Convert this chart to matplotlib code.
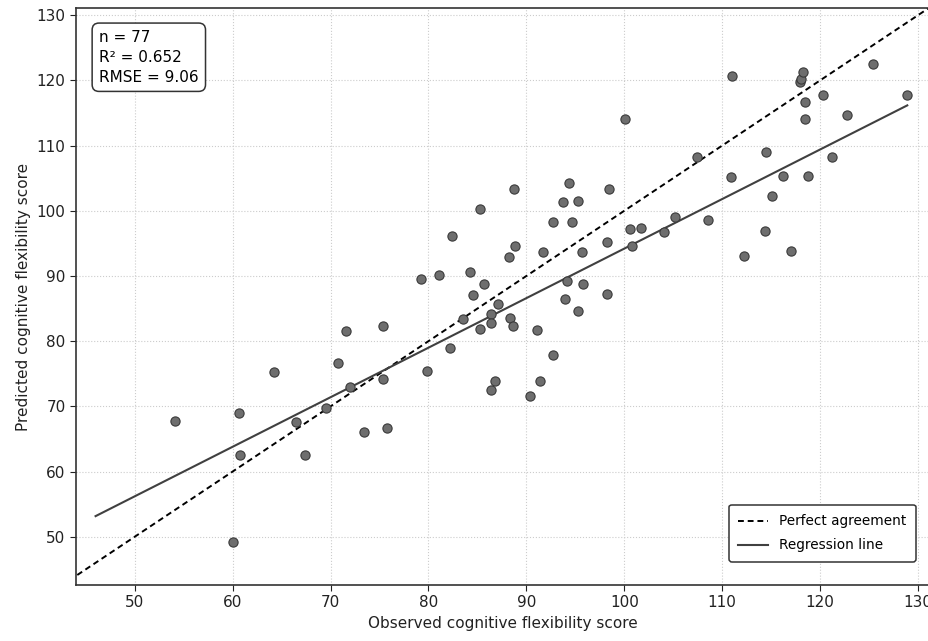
import numpy as np
import matplotlib
matplotlib.use("Agg")
import matplotlib.pyplot as plt

# observed vs predicted scores
observed = [54.1, 60.0, 60.6, 60.8, 64.2, 66.5, 67.4, 69.5, 70.8, 71.6,
            72.0, 73.4, 75.4, 75.4, 75.8, 79.2, 79.8, 81.1, 82.4, 82.2,
            83.5, 84.2, 84.5, 85.3, 85.3, 85.7, 86.4, 86.4, 86.4, 86.8,
            87.1, 88.3, 88.6, 88.2, 88.8, 88.7, 90.4, 91.1, 91.4, 91.7,
            92.7, 92.7, 93.7, 94.4, 95.3, 94.7, 93.9, 94.1, 95.3, 95.8,
            95.7, 98.2, 98.2, 98.4, 100.1, 100.6, 100.8, 101.7, 104.1, 105.2,
            107.4, 108.5, 111.0, 110.9, 112.2, 114.5, 114.4, 115.1, 116.2, 117.0,
            117.9, 118.0, 118.2, 118.5, 118.5, 118.8, 120.3, 121.2, 122.7, 125.4,
            128.9]
predicted = [67.8, 49.2, 69.0, 62.5, 75.3, 67.6, 62.5, 69.7, 76.6, 81.5,
             73.0, 66.0, 82.3, 74.2, 66.7, 89.5, 75.4, 90.2, 96.2, 78.9,
             83.4, 90.6, 87.1, 100.2, 81.9, 88.8, 84.2, 82.8, 72.5, 73.9,
             85.7, 83.5, 82.3, 92.9, 94.6, 103.3, 71.6, 81.7, 73.9, 93.6,
             77.9, 98.3, 101.4, 104.3, 101.5, 98.3, 86.5, 89.3, 84.6, 88.8,
             93.7, 95.2, 87.2, 103.3, 114.1, 97.2, 94.6, 97.4, 96.7, 99.1,
             108.2, 98.6, 120.7, 105.2, 93.1, 109.0, 96.9, 102.3, 105.4, 93.9,
             119.7, 120.2, 121.3, 116.7, 114.1, 105.4, 117.8, 108.3, 114.7, 122.5,
             117.7]

# regression line as drawn in the picture
reg_slope = 0.76
reg_intercept = 18.2
reg_range = [46.0, 128.9]

stats_text = "n = 77\nR\u00b2 = 0.652\nRMSE = 9.06"

fig = plt.figure(figsize=(9.29, 6.41), dpi=100)
ax = fig.add_axes([0.0818, 0.0874, 0.918, 0.9001])

ax.grid(True, color="#cccccc", linestyle=":", linewidth=0.8)
ax.set_axisbelow(True)

lims_x = (44.0, 131.1)
lims_y = (42.6, 131.1)
ident = np.array([40.0, 135.0])
ax.plot(ident, ident, color="black", linestyle="--", linewidth=1.4,
        dashes=(3, 2), label="Perfect agreement", zorder=2)

xr = np.array(reg_range)
ax.plot(xr, reg_slope * xr + reg_intercept, color="#404040", linewidth=1.5,
        label="Regression line", zorder=2)

ax.scatter(observed, predicted, s=44, color="#6e6e6e", edgecolors="#3a3a3a",
           linewidths=0.8, zorder=3)

ax.set_xlim(lims_x)
ax.set_ylim(lims_y)
ax.set_xticks(np.arange(50, 131, 10))
ax.set_yticks(np.arange(50, 131, 10))
ax.tick_params(labelsize=11, colors="#222222", length=4)
for s in ax.spines.values():
    s.set_color("#333333")
    s.set_linewidth(1.2)

ax.set_xlabel("Observed cognitive flexibility score", fontsize=11, color="#222222")
ax.set_ylabel("Predicted cognitive flexibility score", fontsize=11, color="#222222")

ax.text(0.027, 0.962, stats_text, transform=ax.transAxes, fontsize=11,
        va="top", ha="left", linespacing=1.4,
        bbox=dict(boxstyle="round,pad=0.45", facecolor="white",
                  edgecolor="#333333", linewidth=1.1))

leg = ax.legend(loc="lower right", fontsize=9.8, frameon=True, fancybox=True,
                handlelength=2.2, borderpad=0.7, labelspacing=0.75,
                bbox_to_anchor=(0.993, 0.028))
leg.get_frame().set_edgecolor("#333333")
leg.get_frame().set_linewidth(1.1)
leg.get_frame().set_alpha(1)

fig.savefig("out.png", dpi=100)
